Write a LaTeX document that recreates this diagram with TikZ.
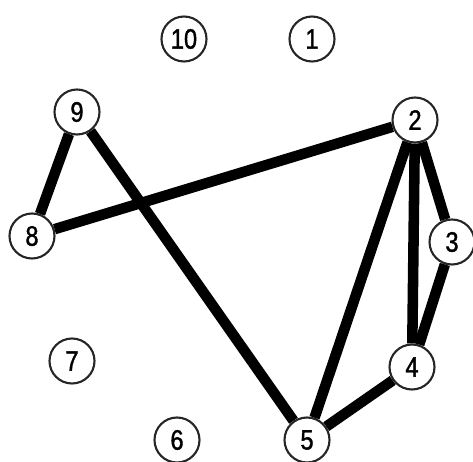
\documentclass[tikz,border=0pt]{standalone}
\usepackage{fontspec}
\setmainfont{Liberation Sans}
\newfontfamily\labelfont[FakeStretch=0.84,FakeBold=1.3]{Liberation Sans}
\usetikzlibrary{positioning}

\tikzset{
  vertex/.style={circle,draw=black!85,line width=1.2pt,fill=white,
    minimum size=0.9cm,inner sep=0pt,font=\labelfont\fontsize{16}{16}\selectfont},
  link/.style={line width=6pt,black}
}

\begin{document}
\begin{tikzpicture}[x=0.02cm,y=-0.02cm]

\useasboundingbox (0,0) rectangle (473,462);

% Vertices
\node[vertex] (n10) at (184,39) {10};
\node[vertex] (n1) at (312,39) {1};
\node[vertex] (n9) at (77,112) {9};
\node[vertex] (n2) at (415,120) {2};
\node[vertex] (n8) at (32,236) {8};
\node[vertex] (n3) at (452,242) {3};
\node[vertex] (n7) at (72,361) {7};
\node[vertex] (n4) at (412,367) {4};
\node[vertex] (n6) at (177,440) {6};
\node[vertex] (n5) at (307,440) {5};

% Edges
\draw[link] (n9) -- (n8);
\draw[link] (n8) -- (n2);
\draw[link] (n9) -- (n5);
\draw[link] (n2) -- (n5);
\draw[link] (n2) -- (n4);
\draw[link] (n2) -- (n3);
\draw[link] (n3) -- (n4);
\draw[link] (n4) -- (n5);

\end{tikzpicture}
\end{document}
